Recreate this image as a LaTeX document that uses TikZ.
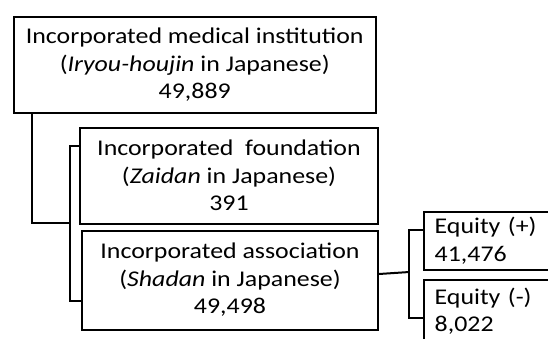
\documentclass[tikz,border=0pt]{standalone}
\usepackage{fontspec}
\setmainfont{Carlito}[FakeStretch=1.15]
\begin{document}
\begin{tikzpicture}[x=1pt,y=-1pt,
  box/.style={draw, line width=2pt, inner sep=0pt, anchor=north west, align=center,
    font=\fontsize{22.5}{27.5}\selectfont},
  eqbox/.style={draw, line width=2pt, inner xsep=11pt, inner ysep=0pt, anchor=north west,
    align=left, text width=180pt, font=\fontsize{22.5}{27.5}\selectfont},
  conn/.style={line width=2pt}]
\useasboundingbox (0,0) rectangle (548,338);
\clip (0,0) rectangle (548,338);
\fill[white] (0,0) rectangle (548,338);
\node[box, minimum width=362.5pt, minimum height=96.5pt] (top) at (12.5,15.5)
  {Incorporated medical institution\\(\textit{Iryou-houjin} in Japanese)\\49,889};
\node[box, minimum width=298pt, minimum height=96pt] (found) at (79,126.5)
  {Incorporated\ \ foundation\\(\textit{Zaidan} in Japanese)\\391};
\node[box, minimum width=296pt, minimum height=99pt] (assoc) at (81,229.5)
  {Incorporated association\\(\textit{Shadan} in Japanese)\\49,498};
\node[eqbox, minimum height=58.5pt] (eqp) at (422.7,210.7) {Equity (+)\\41,476};
\node[eqbox, minimum height=63pt] (eqm) at (422.7,278.5) {Equity (-)\\8,022};
\coordinate (j1) at (70,223);
\coordinate (j2) at (409.3,272);
\draw[conn] (top.south -| 32.3,0) |- (j1);
\draw[conn] ([yshift=30pt]found.west) -| (j1) |- ([yshift=-20.5pt]assoc.west);
\draw[conn] ([yshift=6pt]assoc.east) -- (j2);
\draw[conn] ([yshift=11pt]eqp.west) -| (j2) |- ([yshift=-6.7pt]eqm.west);
\end{tikzpicture}
\end{document}
